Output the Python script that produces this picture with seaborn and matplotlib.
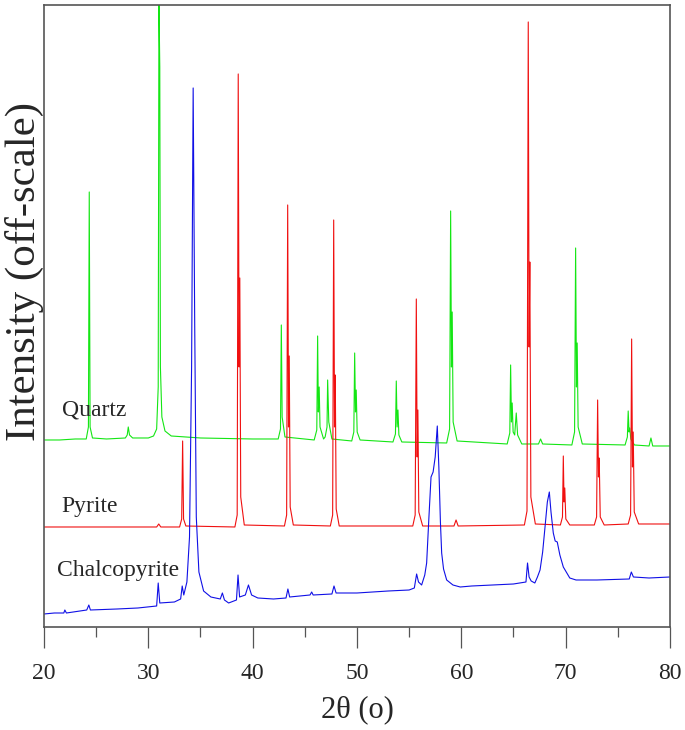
import pandas as pd
import matplotlib
matplotlib.use("Agg")
import matplotlib.pyplot as plt
import seaborn as sns
from matplotlib.ticker import MultipleLocator

# XRD patterns (2theta in degrees, intensity in offset arbitrary units)
quartz_x = [20.0, 21.5, 23.0, 24.05, 24.26, 24.34, 24.42, 24.65, 26.0, 27.8, 27.98, 28.08, 28.2, 28.5,
            30.0, 30.5, 30.8, 30.95, 31.02, 31.1, 31.16, 31.3, 31.6, 32.2, 35.0, 40.0,
            42.45, 42.67, 42.75, 42.83, 43.1, 45.9, 46.15, 46.23, 46.3, 46.38, 46.46, 46.8,
            46.95, 47.13, 47.19, 47.3, 47.6, 49.5, 49.7, 49.78, 49.86, 49.93, 50.02, 50.3,
            53.45, 53.69, 53.77, 53.85, 53.93, 54.02, 54.3, 58.6, 58.88, 58.98, 59.06, 59.13, 59.22, 59.6,
            64.4, 64.65, 64.73, 64.81, 64.88, 64.97, 65.12, 65.27, 65.4, 65.8, 67.4, 67.6, 67.8,
            70.6, 70.86, 70.96, 71.04, 71.11, 71.2, 71.6, 75.7, 75.92, 76.0, 76.08, 76.15, 76.25, 76.6,
            78.0, 78.18, 78.35, 80.0]
quartz_y = [187, 187, 188, 188, 200, 435, 200, 189, 188, 189, 192, 200, 192, 189,
            189, 191, 198, 240, 625, 560, 260, 210, 196, 191, 189, 188,
            188, 198, 302, 210, 190, 187, 197, 291, 215, 240, 200, 188,
            190, 200, 247, 205, 188, 186, 195, 274, 215, 237, 195, 187,
            185, 193, 246, 200, 217, 192, 185, 184, 198, 416, 260, 315, 205, 186,
            183, 194, 262, 205, 224, 195, 192, 214, 192, 183, 183, 188, 183,
            182, 195, 379, 240, 284, 200, 183, 182, 190, 216, 195, 199, 188, 182,
            181, 189, 181, 181]

pyrite_x = [20.0, 25.0, 30.8, 31.0, 31.2, 33.0, 33.2, 33.29, 33.38, 33.6,
            38.3, 38.52, 38.62, 38.7, 38.77, 38.86, 39.2, 43.05, 43.26, 43.36, 43.44, 43.51, 43.6, 43.9,
            47.45, 47.67, 47.77, 47.85, 47.92, 48.01, 48.3, 55.35, 55.58, 55.69, 55.77, 55.84, 55.93, 56.3,
            59.3, 59.5, 59.7, 66.05, 66.3, 66.42, 66.5, 66.57, 66.67, 67.1,
            69.5, 69.7, 69.78, 69.85, 69.92, 70.02, 70.4, 72.75, 72.97, 73.07, 73.15, 73.22, 73.32, 73.7,
            76.0, 76.23, 76.33, 76.41, 76.48, 76.58, 77.0, 80.0]
pyrite_y = [100, 100, 100, 103, 100, 100, 108, 186, 108, 101,
            100, 112, 553, 260, 349, 130, 102, 101, 112, 422, 200, 271, 120, 102,
            101, 112, 407, 200, 252, 118, 101, 101, 112, 328, 170, 217, 115, 101,
            101, 107, 101, 102, 116, 605, 280, 365, 130, 103,
            102, 110, 171, 125, 139, 108, 102, 102, 110, 227, 150, 169, 110, 102,
            103, 112, 288, 160, 195, 115, 103, 103]

chalco_x = [20.0, 21.0, 21.9, 22.0, 22.15, 24.1, 24.3, 24.45, 27.0, 29.0, 30.8, 30.95, 31.1,
            32.5, 33.1, 33.25, 33.4, 33.7, 33.95, 34.15, 34.3, 34.45, 34.6, 34.85, 35.3,
            36.0, 36.9, 37.1, 37.3, 37.7, 38.45, 38.6, 38.75, 39.3, 39.6, 39.9, 40.5,
            42.0, 43.2, 43.38, 43.55, 45.5, 45.66, 45.8, 47.6, 47.8, 48.0, 50.0, 53.0, 55.0, 55.5,
            55.72, 55.9, 56.2, 56.5, 56.68, 56.9, 57.1, 57.3, 57.5, 57.7, 57.85, 58.0, 58.12, 58.3, 58.6,
            59.2, 59.9, 61.0, 63.0, 65.0, 66.2, 66.35, 66.5, 66.7, 67.05, 67.3, 67.55, 67.8, 68.0,
            68.25, 68.44, 68.6, 68.82, 69.0, 69.2, 69.45, 69.78, 70.4, 71.0, 73.0, 76.1, 76.3, 76.5,
            78.0, 80.0]
chalco_y = [13, 14, 14, 17, 14, 17, 22, 17, 18, 19, 21, 44, 24,
            25, 28, 41, 32, 45, 90, 260, 539, 300, 110, 55, 36,
            30, 28, 34, 27, 24, 27, 52, 30, 32, 42, 32, 29,
            28, 29, 38, 30, 32, 35, 32, 33, 41, 34, 34, 36, 37, 39,
            53, 45, 42, 52, 64, 110, 150, 155, 170, 201, 160, 105, 74, 58, 47,
            42, 40, 41, 42, 43, 45, 64, 50, 46, 44, 50, 57, 75, 97,
            125, 135, 115, 94, 86, 85, 72, 60, 49, 47, 47, 48, 55, 50,
            49, 50]

phases = ["Quartz", "Pyrite", "Chalcopyrite"]
colors = ["#14e614", "#f01010", "#1010e6"]

df = pd.concat([
    pd.DataFrame({"two_theta": quartz_x, "intensity": quartz_y, "phase": "Quartz"}),
    pd.DataFrame({"two_theta": pyrite_x, "intensity": pyrite_y, "phase": "Pyrite"}),
    pd.DataFrame({"two_theta": chalco_x, "intensity": chalco_y, "phase": "Chalcopyrite"}),
])

sns.set_theme(style="white")
plt.rcParams["font.family"] = ["Liberation Serif", "DejaVu Serif"]

fig = plt.figure(figsize=(6.85, 7.30), dpi=100)
ax = fig.add_axes([0.0642, 0.1411, 0.9138, 0.8521])

sns.lineplot(data=df, x="two_theta", y="intensity", hue="phase", hue_order=phases,
             palette=colors, estimator=None, sort=False, linewidth=0.8, legend=False, ax=ax)

ax.set_xlim(20, 80)
ax.set_ylim(0, 622)
ax.set_yticks([])
ax.xaxis.set_major_locator(MultipleLocator(10))
ax.xaxis.set_minor_locator(MultipleLocator(5))
ax.tick_params(axis="x", which="both", bottom=True, direction="out", color="#555555", width=0.9)
ax.tick_params(axis="x", which="major", length=15, labelsize=17, pad=11)
ax.tick_params(axis="x", which="minor", length=7.5)

for sp in ax.spines.values():
    sp.set_visible(True)
    sp.set_color("#555555")
    sp.set_linewidth(1.2)

ax.set_xlabel("2θ (o)", fontsize=22, labelpad=8)
ax.set_ylabel("Intensity (off-scale)", fontsize=31)
ax.yaxis.set_label_coords(0.0, 0.572)

# phase labels next to each trace
ax.text(21.7, 217, "Quartz", fontsize=17, va="center", ha="left")
ax.text(21.7, 120, "Pyrite", fontsize=17, va="center", ha="left")
ax.text(21.25, 56, "Chalcopyrite", fontsize=17, va="center", ha="left")

fig.savefig("out.png", dpi=100)
